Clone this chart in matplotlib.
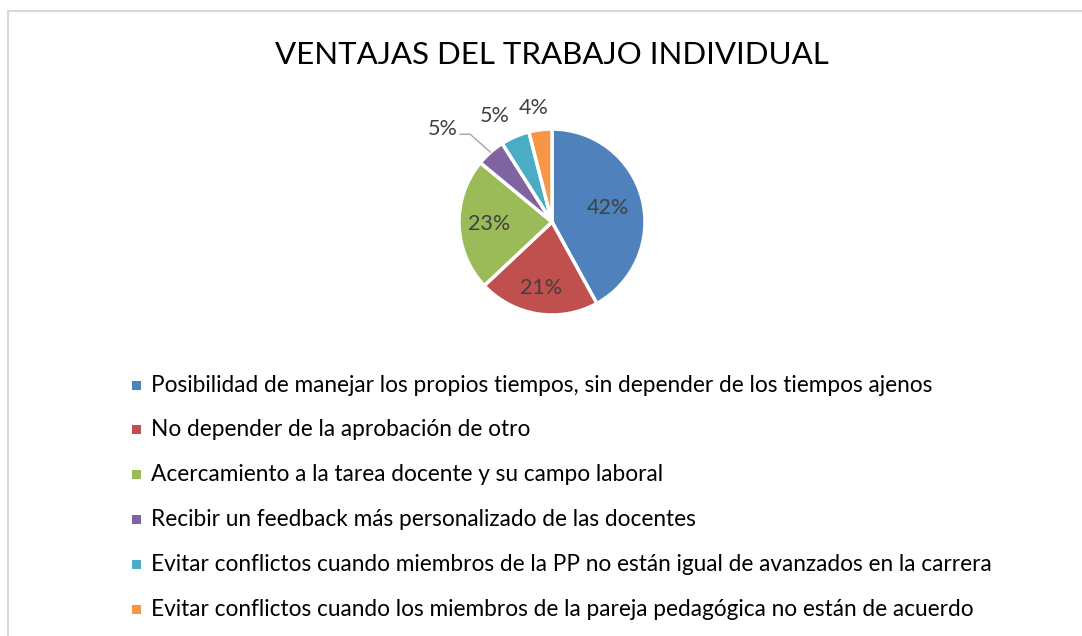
import numpy as np
import matplotlib
matplotlib.use('Agg')
import matplotlib.pyplot as plt
from matplotlib.patches import Rectangle
from matplotlib.lines import Line2D

plt.rcParams['font.family'] = ['Lato', 'DejaVu Sans']

title = 'VENTAJAS DEL TRABAJO INDIVIDUAL'
categories = [
    'Posibilidad de manejar los propios tiempos, sin depender de los tiempos ajenos',
    'No depender de la aprobación de otro',
    'Acercamiento a la tarea docente y su campo laboral',
    'Recibir un feedback más personalizado de las docentes',
    'Evitar conflictos cuando miembros de la PP no están igual de avanzados en la carrera',
    'Evitar conflictos cuando los miembros de la pareja pedagógica no están de acuerdo',
]
values = [42, 21, 23, 5, 5, 4]
colors = ['#4F81BD', '#C0504D', '#9BBB59', '#8064A2', '#4BACC6', '#F79646']

W, H = 1082, 636
fig = plt.figure(figsize=(W / 100, H / 100), dpi=100)

# chart frame (only left and top edges are visible in the crop)
fig.add_artist(Line2D([8 / W, 8 / W], [0, 1 - 11 / H], color='#d9d9d9', lw=1.5))
fig.add_artist(Line2D([8 / W, 1], [1 - 11 / H, 1 - 11 / H], color='#d9d9d9', lw=1.5))

fig.text(552 / W, 1 - 55 / H, title, ha='center', va='center',
         fontsize=22.5, color='#000000')

# pie axes: radius 93 px, centred at (552, 222)
cx, cy, r = 552, 222, 93
ax = fig.add_axes([(cx - r) / W, 1 - (cy + r) / H, 2 * r / W, 2 * r / H])
wedges, _ = ax.pie(values, colors=colors, startangle=90, counterclock=False,
                   radius=1, wedgeprops=dict(edgecolor='white', linewidth=2.5))
ax.set_xlim(-1, 1)
ax.set_ylim(-1, 1)
ax.set_aspect('equal')
ax.axis('off')

total = sum(values)
label_dist = [0.62, 0.72, 0.68, None, 1.29, 1.24]
label_turn = [0, 0, 0, 0, 5, 2]  # degrees, nudges outside labels apart
for i, (w, v) in enumerate(zip(wedges, values)):
    mid = np.deg2rad((w.theta1 + w.theta2) / 2)
    txt = f'{round(100 * v / total)}%'
    if label_dist[i] is None:
        # leader line for the purple slice
        ex, ey = np.cos(mid), np.sin(mid)
        kx, ky = 1.29 * np.cos(np.deg2rad(133)), 1.29 * np.sin(np.deg2rad(133))
        ax.plot([ex, kx, kx - 0.11], [ey, ky, ky], color='#a6a6a6', lw=1,
                clip_on=False)
        ax.text(kx - 0.14, ky + 0.06, txt, ha='right', va='center',
                fontsize=15.5, color='#404040', clip_on=False)
        continue
    d = label_dist[i]
    a = mid + np.deg2rad(label_turn[i])
    x, y = d * np.cos(a), d * np.sin(a)
    ax.text(x, y, txt, ha='center', va='center',
            fontsize=15.5, color='#404040', clip_on=False)

# legend
for i, (cat, col) in enumerate(zip(categories, colors)):
    ly = 385 + i * 44.8
    fig.add_artist(Rectangle((132 / W, 1 - (ly + 4.5) / H), 9 / W, 9 / H,
                             facecolor=col, edgecolor='none'))
    fig.text(151 / W, 1 - ly / H, cat, ha='left', va='center',
             fontsize=16.3, color='#000000')

fig.savefig('out.png', dpi=100)
